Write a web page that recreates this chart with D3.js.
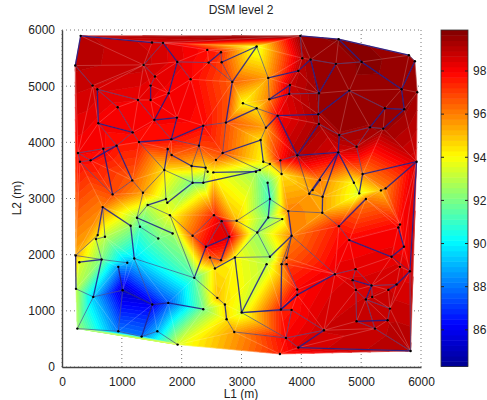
<!DOCTYPE html>
<html>
<head>
<meta charset="utf-8">
<script src="https://cdn.jsdelivr.net/npm/d3@7"></script>
<style>
  body { margin: 0; background: #fff; }
  text { font-family: "Liberation Sans", Arial, sans-serif; fill: #222; }
</style>
</head>
<body>
<svg id="chart" width="487" height="400"></svg>
<script>
// node positions (m) and DSM level, same order in all three arrays
var l1 = [
  312,222,512,1504,1688,1364,1927,1554,2150,2428,
  2657,2450,2668,2846,1782,1270,1481,1481,590,930,
  607,1543,1921,2361,2740,1181,1827,1287,913,690,
  267,479,300,1766,2289,2684,2573,1832,2166,2400,
  2434,1710,2183,2362,1175,846,1353,1738,3982,4623,
  5798,5898,5937,5675,5007,4578,4155,4016,3949,3447,
  3253,3810,3798,3464,4294,4801,3024,3253,3603,3408,
  4283,4294,5397,5720,5369,5146,4634,4923,4617,3932,
  3648,3319,3364,3475,3670,5926,5024,4879,5330,4968,
  5408,4133,4355,3436,3475,3782,4350,4628,5079,4801,
  5620,5648,5714,5508,3837,3447,3264,3681,3475,3754,
  3670,3754,3420,4561,4907,4857,5174,4912,5453,5592,
  5815,3932,3932,5079,5185,5481,4923,5230,5442,4378,
  3659,3837,3002,3743,3949,3642,5826,5648,679,1253,
  1147,1431,1804,1303,1609,1849,568,718,596,228,
  662,289,1208,1091,941,234,523,1013,1509,1776,
  2361,256,941,1331,1593,1932,2211,2540,2668,2796,
  2406,2183,2473,2556,2890,2595,2723,2751,2879,2657,
  3308,2529,3242,1760,2919,4189,4311
];
var l2 = [
  5896,5367,5010,5777,5771,5379,5432,5171,5123,5646,
  5604,5420,5426,5076,4874,4755,5010,4755,4945,4624,
  4339,4398,4440,4297,4351,4178,4053,4006,3941,3887,
  3810,3679,3655,3881,3941,3810,3685,3774,3578,3548,
  3477,3507,3281,3281,3322,3073,3102,2990,5896,5836,
  5551,5444,4891,4945,5432,5397,5474,5498,5272,5147,
  5706,5022,4862,4767,4874,4921,4695,4606,4475,4261,
  4499,4327,4606,4588,4244,4267,4131,3923,3822,3768,
  3679,4041,3655,3614,3435,3655,3435,3281,3144,3091,
  3180,3085,3031,3281,2990,2776,2746,2508,2990,2259,
  2485,2538,2140,1962,2336,2663,2395,2633,1962,1944,
  1831,1831,1831,1653,1742,1546,1450,1373,1373,1468,
  1706,1379,1284,1201,1248,1040,814,684,832,654,
  1023,1017,969,517,345,232,286,1783,2847,2657,
  2514,2883,2704,2496,2288,2378,2277,2318,2348,1985,
  1914,1866,1932,1855,1783,1391,1248,1367,1112,1141,
  1029,684,636,541,636,399,1587,2704,2597,2318,
  2140,2336,1950,1754,1950,1231,1112,850,624,1902,
  3507,3465,3477,2924,2603,3150,3329
];
var dsm = [
  99,99,98.7,98.6,98.5,98.8,98.3,98.4,98,97.8,
  97.3,97.6,97,96.5,98.1,98.2,98.3,98.2,98.5,98.1,
  98.1,98,98,97.9,96.8,98,97.8,97.7,97.7,98,
  98,97.8,97.8,97,97,96.8,96,96.5,95,94.5,
  93.5,94.5,92,92.3,96.5,96.8,95.5,93,99.6,99.7,
  99.6,99.6,99.4,99.6,99.7,99.5,99.4,99,98.9,95.5,
  93.5,98.8,98.6,96,99.5,99.6,94,94.5,98,95.5,
  99.4,99.3,99.6,99.5,99.5,99.4,99.4,99,98.5,99.2,
  97.7,94.5,94,94.5,94.5,98.5,96,94,95,93.5,
  96,95.5,95.5,91.5,91,96,95.5,97.6,96,98,
  98,97.8,98,98.3,96,92,92.5,93.5,92.5,96.5,
  95.5,97,93,98.3,98.3,98.5,98.6,98.6,98.7,98.6,
  98.3,98,97.8,98.7,98.7,98.8,98.8,98.8,98.9,98.7,
  97.5,97.7,93.5,98,98.5,97.5,99.2,98.5,96,92.5,
  92.5,93,93.8,91.3,91.8,92.5,93.5,93,94.5,95.3,
  92,93.5,89.5,89,88.5,93,89.3,85.3,86,87.5,
  92,92.5,88,88,89,93.5,91.3,97.5,98.5,98.5,
  98,96.5,96.5,94.5,94,95,94.5,94.5,95.5,96.5,
  93,94,92.5,93.5,95,95.5,96
];

// links between nodes, by index into the arrays above
var heavyLinks = [
  [0,3],[0,1],[4,6],[16,17],[6,14],[11,10],[14,21],[21,22],[18,20],[20,25],
  [22,26],[26,23],[23,34],[27,26],[33,41],[37,38],[38,39],[13,24],[35,81],[81,82],
  [31,28],[29,45],[28,44],[183,42],[141,47],[48,49],[49,50],[51,53],[49,54],[54,53],
  [56,58],[56,64],[55,64],[58,59],[60,13],[12,60],[61,62],[62,63],[61,63],[70,65],
  [72,73],[73,53],[73,74],[72,75],[70,68],[69,68],[68,79],[71,79],[79,78],[78,76],
  [78,87],[78,91],[78,92],[85,86],[86,89],[90,85],[93,94],[94,105],[105,106],[95,104],
  [96,92],[97,98],[99,103],[103,102],[102,100],[120,119],[119,118],[120,85],[115,116],[116,123],
  [126,128],[113,122],[122,130],[129,134],[134,136],[138,140],[140,152],[139,145],[138,148],[150,151],
  [149,155],[150,156],[157,158],[154,157],[158,159],[159,160],[158,163],[170,166],[170,169],[169,179],
  [176,177],[174,173],[174,132],[112,132],[132,130],[108,104],[110,130],[130,122],[181,182],[43,180],
  [185,186],[24,67],[42,43]
];
var lightLinks = [
  [3,4],[4,5],[1,2],[5,7],[7,16],[6,8],[6,11],[10,12],[12,13],[11,13],
  [15,21],[18,15],[19,25],[19,18],[20,28],[25,27],[25,28],[21,26],[23,24],[27,41],
  [26,34],[33,37],[34,39],[34,38],[39,40],[35,36],[24,35],[82,83],[83,180],[35,180],
  [30,29],[30,31],[30,32],[32,31],[29,28],[32,45],[44,45],[44,46],[41,42],[38,42],
  [39,43],[41,47],[41,46],[46,139],[48,57],[50,51],[56,55],[55,54],[59,60],[59,63],
  [64,62],[64,70],[65,72],[74,75],[75,76],[76,71],[70,71],[68,67],[67,66],[67,69],
  [76,77],[77,75],[79,80],[80,84],[81,69],[84,83],[79,91],[87,89],[77,86],[91,92],
  [88,90],[94,95],[95,96],[96,97],[97,99],[105,107],[107,106],[104,110],[104,109],[104,113],
  [100,101],[103,120],[116,119],[114,116],[114,115],[117,123],[115,117],[117,126],[123,127],[125,128],
  [127,126],[125,123],[113,114],[130,131],[131,129],[131,133],[133,134],[133,129],[127,136],[136,120],
  [124,116],[139,141],[141,142],[142,171],[142,166],[143,144],[139,143],[138,147],[148,146],[147,146],
  [148,149],[146,150],[149,150],[150,153],[155,156],[156,157],[152,158],[152,166],[157,162],[161,162],
  [162,163],[163,164],[164,165],[161,156],[167,168],[168,170],[171,170],[167,171],[168,169],[172,179],
  [173,172],[166,175],[175,176],[177,178],[174,108],[106,108],[109,110],[110,111],[111,121],[109,104],
  [121,122],[131,132],[178,133],[132,133],[184,94],[184,168],[184,106],[47,183],[174,106]
];

var xTicks = [0,1000,2000,3000,4000,5000,6000];
var yTicks = [0,1000,2000,3000,4000,5000,6000];
var cTicks = [86,88,90,92,94,96,98];

var svg = d3.select("#chart");

var xScale = d3.scaleLinear().domain([0, 6000]).range([62, 421]);
var yScale = d3.scaleLinear().domain([0, 6000]).range([367, 30]);
var cScale = d3.scaleLinear().domain([84.3, 99.9]).range([366.5, 30]);

// jet colormap, 64 flat steps like matlab
var jet = d3.scaleLinear()
            .domain([0, 0.125, 0.375, 0.625, 0.875, 1])
            .range(["#000090", "#0000ff", "#00ffff", "#ffff00", "#ff0000", "#800000"]);
var nBands = 64;
var bandStep = (99.9 - 84.3) / nBands;
var bands = d3.range(nBands).map(function(k){
  return {
    lo: 84.3 + k * bandStep,
    hi: 84.3 + (k + 1) * bandStep,
    color: jet((k + 0.5) / nBands),
    path: d3.path()
  };
});

//grid
svg.append("g").selectAll("line").data(xTicks).enter().append("line")
    .attr("x1", function(d){ return xScale(d); })
    .attr("x2", function(d){ return xScale(d); })
    .attr("y1", yScale(0)).attr("y2", yScale(6000))
    .attr("stroke", "#555").attr("stroke-width", 0.8).attr("stroke-dasharray", "1,3");
svg.append("g").selectAll("line").data(yTicks).enter().append("line")
    .attr("y1", function(d){ return yScale(d); })
    .attr("y2", function(d){ return yScale(d); })
    .attr("x1", xScale(0)).attr("x2", xScale(6000))
    .attr("stroke", "#555").attr("stroke-width", 0.8).attr("stroke-dasharray", "1,3");

//triangulate the nodes
var delaunay = d3.Delaunay.from(l1.map(function(d, i){ return [d, l2[i]]; }));
var tri = delaunay.triangles;

// keep the part of a polygon on one side of a level
function clipLevel(poly, level, keepAbove){
  var out = [];
  for (var i = 0; i < poly.length; i++){
    var a = poly[i], b = poly[(i + 1) % poly.length];
    var aIn = keepAbove ? a[2] >= level : a[2] <= level;
    var bIn = keepAbove ? b[2] >= level : b[2] <= level;
    if (aIn) out.push(a);
    if (aIn != bIn){
      var t = (level - a[2]) / (b[2] - a[2]);
      out.push([a[0] + t * (b[0] - a[0]), a[1] + t * (b[1] - a[1]), level]);
    }
  }
  return out;
}

//cut every triangle into its colour bands
for (var t = 0; t < tri.length; t += 3){
  var corners = [tri[t], tri[t + 1], tri[t + 2]].map(function(n){
    return [xScale(l1[n]), yScale(l2[n]), dsm[n]];
  });
  bands.forEach(function(b){
    var poly = clipLevel(clipLevel(corners, b.lo, true), b.hi, false);
    if (poly.length < 3) return;
    b.path.moveTo(poly[0][0], poly[0][1]);
    poly.slice(1).forEach(function(p){ b.path.lineTo(p[0], p[1]); });
    b.path.closePath();
  });
}

svg.append("g").attr("id", "surface").selectAll("path")
    .data(bands).enter().append("path")
    .attr("d", function(d){ return d.path.toString(); })
    .attr("fill", function(d){ return d.color; })
    .attr("stroke", function(d){ return d.color; })
    .attr("stroke-width", 0.6)
    .attr("stroke-linejoin", "round");

//white triangle edges
var edgePath = d3.path();
for (var e = 0; e < delaunay.halfedges.length; e++){
  var opp = delaunay.halfedges[e];
  if (opp > e || opp < 0){
    var n1 = tri[e], n2 = tri[e % 3 == 2 ? e - 2 : e + 1];
    edgePath.moveTo(xScale(l1[n1]), yScale(l2[n1]));
    edgePath.lineTo(xScale(l1[n2]), yScale(l2[n2]));
  }
}
svg.append("path").attr("d", edgePath.toString())
    .attr("fill", "none").attr("stroke", "#fff")
    .attr("stroke-width", 0.5).attr("stroke-opacity", 0.4);

//links
function drawLinks(list, color, width, opacity){
  svg.append("g").selectAll("line").data(list).enter().append("line")
      .attr("x1", function(d){ return xScale(l1[d[0]]); })
      .attr("y1", function(d){ return yScale(l2[d[0]]); })
      .attr("x2", function(d){ return xScale(l1[d[1]]); })
      .attr("y2", function(d){ return yScale(l2[d[1]]); })
      .attr("stroke", color).attr("stroke-width", width).attr("stroke-opacity", opacity);
}
drawLinks(lightLinks, "#2c3480", 0.85, 0.7);
drawLinks(heavyLinks, "#1a1a8a", 1.3, 0.85);

//nodes
svg.append("g").selectAll("circle").data(l1).enter().append("circle")
    .attr("cx", function(d){ return xScale(d); })
    .attr("cy", function(d, i){ return yScale(l2[i]); })
    .attr("r", 1.2)
    .attr("fill", "#000");

//axes
var xAxis = d3.axisBottom().scale(xScale).tickValues(xTicks).tickSize(0).tickPadding(10).tickFormat(d3.format("d"));
var yAxis = d3.axisLeft().scale(yScale).tickValues(yTicks).tickSize(0).tickPadding(7).tickFormat(d3.format("d"));
var xx = svg.append("g").attr("transform", "translate(0, 367)").call(xAxis);
var yx = svg.append("g").attr("transform", "translate(62, 0)").call(yAxis);
[xx, yx].forEach(function(a){
  a.select(".domain").attr("stroke", "#444").attr("stroke-width", 1.4);
  a.selectAll("text").attr("font-size", 12).attr("font-family", null);
});

//colorbar
var cBar = svg.append("g").attr("id", "colorbar");
cBar.selectAll("rect").data(bands).enter().append("rect")
    .attr("x", 441).attr("width", 27)
    .attr("y", function(d){ return cScale(d.hi); })
    .attr("height", function(d){ return cScale(d.lo) - cScale(d.hi) + 0.5; })
    .attr("fill", function(d){ return d.color; });
cBar.append("rect").attr("x", 441).attr("y", 30).attr("width", 27).attr("height", 336.5)
    .attr("fill", "none").attr("stroke", "#333").attr("stroke-width", 0.8);
var cAxis = d3.axisRight().scale(cScale).tickValues(cTicks).tickSize(0).tickPadding(5);
var cx = svg.append("g").attr("transform", "translate(468, 0)").call(cAxis);
cx.select(".domain").remove();
cx.selectAll("text").attr("font-size", 12).attr("font-family", null);
cBar.selectAll("line.l").data(cTicks).enter().append("line")
    .attr("x1", 441).attr("x2", 444)
    .attr("y1", function(d){ return cScale(d); })
    .attr("y2", function(d){ return cScale(d); })
    .attr("stroke", "#222");
cBar.selectAll("line.r").data(cTicks).enter().append("line")
    .attr("x1", 465).attr("x2", 468)
    .attr("y1", function(d){ return cScale(d); })
    .attr("y2", function(d){ return cScale(d); })
    .attr("stroke", "#222");

//titles
svg.append("text").attr("x", 241).attr("y", 14).attr("text-anchor", "middle")
    .attr("font-size", 12).text("DSM level 2");
svg.append("text").attr("x", 241).attr("y", 398).attr("text-anchor", "middle")
    .attr("font-size", 12).text("L1 (m)");
svg.append("text").attr("transform", "translate(21, 198) rotate(-90)").attr("text-anchor", "middle")
    .attr("font-size", 12).text("L2 (m)");
</script>
</body>
</html>
